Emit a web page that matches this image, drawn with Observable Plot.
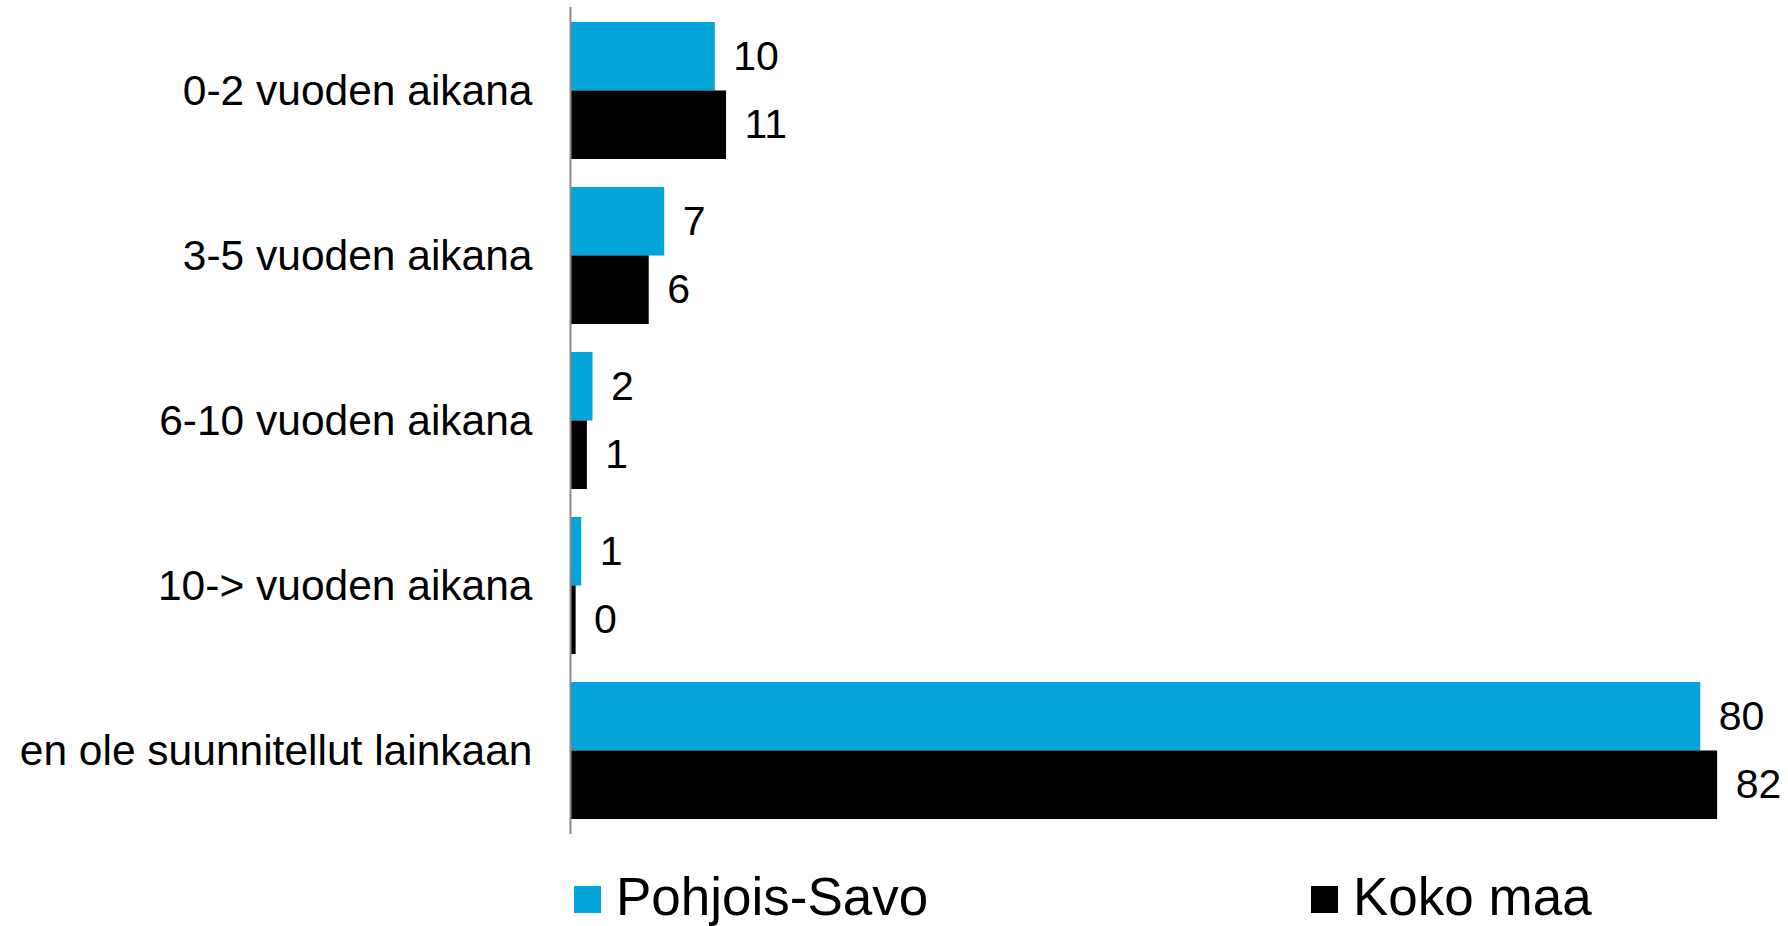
<!DOCTYPE html>
<html>
<head>
<meta charset="utf-8">
<script src="https://cdn.jsdelivr.net/npm/d3@7"></script>
<script src="https://cdn.jsdelivr.net/npm/@observablehq/plot@0.6"></script>
<style>
  html, body { margin: 0; padding: 0; background: #ffffff; }
  body { font-family: "Liberation Sans", Arial, sans-serif; }
  #wrap { position: relative; width: 1788px; height: 926px; overflow: hidden; }
  .leg { position: absolute; font-size: 53px; line-height: 53px; color: #000; white-space: nowrap; }
  .sw { position: absolute; width: 27px; height: 27px; }
</style>
</head>
<body>
<div id="wrap"></div>
<script>
// ---- data ----
const categories = [
  "0-2 vuoden aikana",
  "3-5 vuoden aikana",
  "6-10 vuoden aikana",
  "10-> vuoden aikana",
  "en ole suunnitellut lainkaan"
];
const series = ["Pohjois-Savo", "Koko maa"];
const pohjoisSavo = [10.3, 6.7, 1.6, 0.8, 80.4];
const kokoMaa = [11.1, 5.6, 1.2, 0.4, 81.6];
const colors = ["#02A4D9", "#000000"];

const values = [pohjoisSavo, kokoMaa];
const data = categories.flatMap((c, i) =>
  series.map((s, j) => ({category: c, series: s, value: values[j][i]}))
);

// ---- layout ----
const W = 1788, H = 850, mt = 7, mb = 16, ml = 570, mr = 9;
const pi = 0.172, po = 0.086;
const step = (H - mt - mb) / (categories.length - pi + 2 * po);
const half = step * (1 - pi) / 2;
const font = "'Liberation Sans', Arial, sans-serif";

const first = data.filter(d => d.series === series[0]);
const second = data.filter(d => d.series === series[1]);

const chart = Plot.plot({
  width: W,
  height: H,
  marginLeft: ml,
  marginRight: mr,
  marginTop: mt,
  marginBottom: mb,
  style: {fontFamily: font, background: "#ffffff", color: "#000000"},
  x: {domain: [0, 86], axis: null},
  y: {domain: categories, paddingInner: pi, paddingOuter: po, label: null, axis: null},
  color: {domain: series, range: colors},
  marks: [
    Plot.barX(first, {x: "value", y: "category", fill: "series", insetBottom: half}),
    Plot.barX(second, {x: "value", y: "category", fill: "series", insetTop: half}),
    Plot.text(first, {x: "value", y: "category", text: d => String(Math.round(d.value)),
      dx: 18, dy: -half / 2, textAnchor: "start", fontSize: 41, fill: "#000"}),
    Plot.text(second, {x: "value", y: "category", text: d => String(Math.round(d.value)),
      dx: 18, dy: half / 2, textAnchor: "start", fontSize: 41, fill: "#000"}),
    Plot.ruleX([0], {stroke: "#8c8c8c", strokeWidth: 2}),
    Plot.axisY({anchor: "left", tickSize: 0, tickPadding: 38, fontSize: 42.5, label: null, fill: "#000"})
  ]
});

const wrap = document.getElementById("wrap");
wrap.appendChild(chart);

// ---- legend ----
const legendPos = [
  {sw: 574, text: 616},
  {sw: 1311, text: 1353}
];
series.forEach((s, i) => {
  const sw = document.createElement("div");
  sw.className = "sw";
  sw.style.left = legendPos[i].sw + "px";
  sw.style.top = "886px";
  sw.style.background = colors[i];
  wrap.appendChild(sw);
  const t = document.createElement("div");
  t.className = "leg";
  t.style.left = legendPos[i].text + "px";
  t.style.top = "870px";
  t.textContent = s;
  wrap.appendChild(t);
});
</script>
</body>
</html>
